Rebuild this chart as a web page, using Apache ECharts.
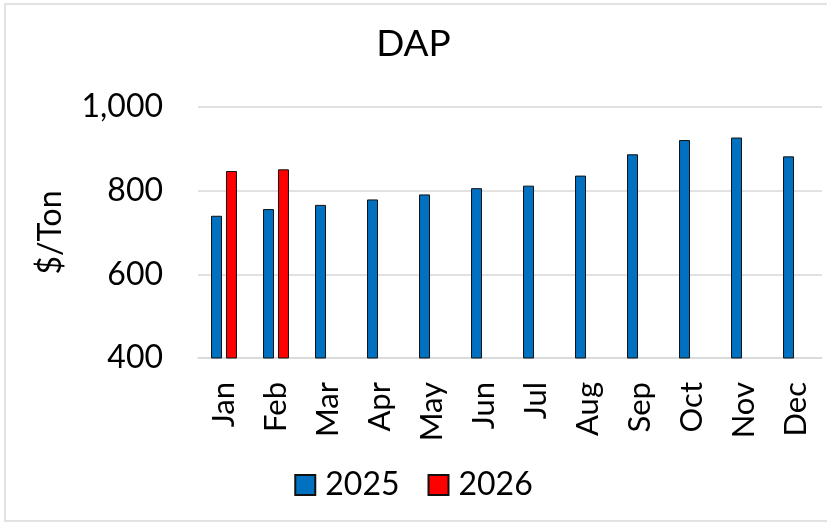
<!DOCTYPE html>
<html>
<head>
<meta charset="utf-8">
<script src="https://cdn.jsdelivr.net/npm/echarts@6/dist/echarts.min.js"></script>
<style>
  html, body { margin: 0; padding: 0; background: #fff; }
  #main { width: 827px; height: 523px; }
</style>
</head>
<body>
<div id="main"></div>
<script>
const months = ['Jan', 'Feb', 'Mar', 'Apr', 'May', 'Jun', 'Jul', 'Aug', 'Sep', 'Oct', 'Nov', 'Dec']
const price2025 = [740, 756, 766, 779, 791, 806, 812, 836, 887, 921, 927, 882]
const price2026 = [847, 851]
const yTicks = [400, 600, 800, 1000]

const FONT = 'Lato'
const chart = echarts.init(document.getElementById('main'))

const option = {
  animation: false,
  backgroundColor: '#fff',
  textStyle: { fontFamily: FONT },
  graphic: [{
    type: 'rect',
    silent: true,
    shape: { x: 5, y: 4, width: 900, height: 517 },
    style: { fill: 'none', stroke: '#d9d9d9', lineWidth: 1.5 }
  }],
  title: {
    text: 'DAP',
    left: 'center',
    top: 21,
    textStyle: { fontFamily: FONT, fontSize: 37, fontWeight: 'normal', color: '#000' }
  },
  legend: {
    bottom: 17,
    left: 'center',
    icon: 'rect',
    itemWidth: 20,
    itemHeight: 20,
    itemGap: 28,
    textStyle: { fontFamily: FONT, fontSize: 32, color: '#000', padding: [0, 0, 0, 5] },
    data: ['2025', '2026']
  },
  grid: { left: 198, right: 5, top: 107, bottom: 165 },
  xAxis: {
    type: 'category',
    data: months,
    axisTick: { show: false },
    axisLine: { lineStyle: { color: '#d9d9d9', width: 1.5 } },
    axisLabel: { rotate: 90, margin: 24, fontFamily: FONT, fontSize: 31, color: '#000' }
  },
  yAxis: {
    type: 'value',
    min: yTicks[0],
    max: yTicks[yTicks.length - 1],
    interval: 200,
    name: '$/Ton',
    nameLocation: 'middle',
    nameRotate: 90,
    nameGap: 131,
    nameTextStyle: { fontFamily: FONT, fontSize: 32, color: '#000' },
    axisLabel: {
      margin: 35,
      fontFamily: FONT,
      fontSize: 32,
      color: '#000',
      formatter: v => v.toLocaleString('en-US')
    },
    splitLine: { lineStyle: { color: '#d9d9d9', width: 1.5 } }
  },
  series: [{
    name: '2025',
    type: 'bar',
    data: price2025,
    barWidth: 11,
    barGap: '36%',
    itemStyle: { color: '#0070C0', borderColor: '#111', borderWidth: 1 }
  }, {
    name: '2026',
    type: 'bar',
    data: price2026,
    barWidth: 11,
    itemStyle: { color: '#FF0000', borderColor: '#111', borderWidth: 1 }
  }]
}
chart.setOption(option)
</script>
</body>
</html>
